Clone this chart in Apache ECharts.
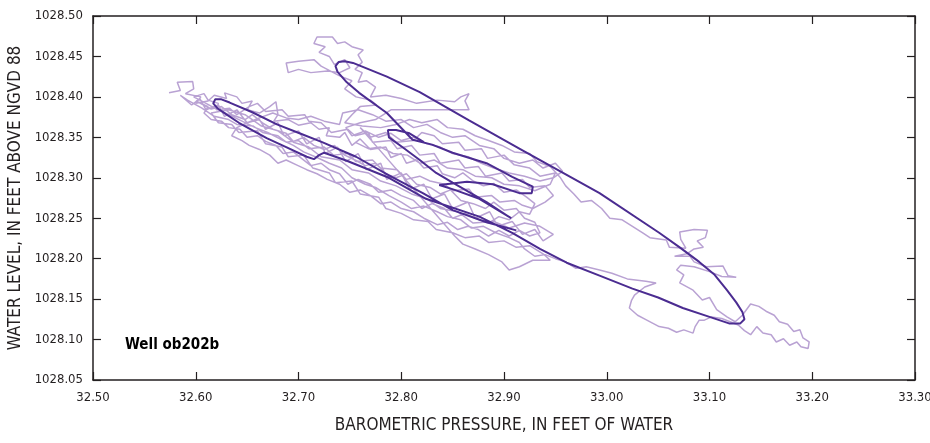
<!DOCTYPE html>
<html>
<head>
<meta charset="utf-8">
<script src="https://cdn.jsdelivr.net/npm/echarts@6/dist/echarts.min.js"></script>
<style>
html,body{margin:0;padding:0;background:#fff;}
#chart{width:930px;height:443px;}
</style>
</head>
<body>
<div id="chart"></div>
<script>
// Axis ticks
const xTicks = [32.50, 32.60, 32.70, 32.80, 32.90, 33.00, 33.10, 33.20, 33.30];
const yTicks = [1028.05, 1028.10, 1028.15, 1028.20, 1028.25, 1028.30, 1028.35, 1028.40, 1028.45, 1028.50];

// Light trace (raw record), pieces in recorded order: [barometric pressure, water level]
const lightBandUpper = [[32.574,1028.405],[32.585,1028.408],[32.582,1028.418],[32.597,1028.419],[32.598,1028.410],[32.590,1028.404],[32.605,1028.400],[32.600,1028.392],[32.612,1028.395],[32.618,1028.402],[32.630,1028.398],[32.628,1028.405],[32.640,1028.400],[32.645,1028.392],[32.655,1028.395],[32.650,1028.384],[32.662,1028.380],[32.672,1028.388],[32.678,1028.394],[32.680,1028.378],[32.676,1028.370],[32.690,1028.372],[32.700,1028.365],[32.712,1028.368],[32.720,1028.360],[32.730,1028.362],[32.727,1028.352],[32.740,1028.350],[32.745,1028.356],[32.752,1028.340],[32.760,1028.348],[32.770,1028.335],[32.785,1028.338],[32.790,1028.325],[32.800,1028.330],[32.805,1028.318],[32.815,1028.322],[32.822,1028.312],[32.835,1028.315],[32.840,1028.305],[32.852,1028.300],[32.860,1028.306],[32.870,1028.296],[32.880,1028.290],[32.890,1028.293],[32.900,1028.282],[32.912,1028.285],[32.922,1028.276],[32.930,1028.268]];
const lightBandLower = [[32.925,1028.255],[32.915,1028.258],[32.905,1028.248],[32.895,1028.252],[32.885,1028.244],[32.872,1028.250],[32.862,1028.256],[32.850,1028.250],[32.842,1028.262],[32.830,1028.268],[32.820,1028.262],[32.812,1028.272],[32.800,1028.278],[32.790,1028.285],[32.778,1028.282],[32.770,1028.292],[32.758,1028.298],[32.748,1028.292],[32.740,1028.305],[32.730,1028.310],[32.722,1028.318],[32.712,1028.315],[32.702,1028.325],[32.695,1028.332],[32.685,1028.330],[32.678,1028.340],[32.668,1028.345],[32.660,1028.352],[32.650,1028.350],[32.643,1028.360],[32.632,1028.362],[32.625,1028.370],[32.615,1028.372],[32.608,1028.380],[32.612,1028.388],[32.600,1028.395]];
const lightBandMiddle = [[32.615,1028.385],[32.625,1028.388],[32.635,1028.378],[32.648,1028.372],[32.655,1028.378],[32.665,1028.368],[32.675,1028.360],[32.688,1028.355],[32.695,1028.345],[32.705,1028.350],[32.715,1028.340],[32.725,1028.335],[32.735,1028.340],[32.745,1028.328],[32.755,1028.322],[32.765,1028.315],[32.775,1028.318],[32.785,1028.305],[32.795,1028.300],[32.805,1028.305],[32.815,1028.292],[32.828,1028.288],[32.838,1028.280],[32.848,1028.285],[32.858,1028.272],[32.870,1028.268],[32.882,1028.262],[32.890,1028.270],[32.900,1028.260],[32.912,1028.262],[32.920,1028.250],[32.930,1028.245],[32.935,1028.232],[32.925,1028.228],[32.915,1028.235]];
const lightBandBottom = [[32.905,1028.228],[32.895,1028.235],[32.885,1028.228],[32.875,1028.236],[32.865,1028.240],[32.855,1028.236],[32.845,1028.245],[32.835,1028.242],[32.822,1028.250],[32.812,1028.258],[32.800,1028.262],[32.790,1028.270],[32.780,1028.268],[32.770,1028.278],[32.760,1028.285],[32.750,1028.282],[32.740,1028.292],[32.728,1028.298],[32.718,1028.305],[32.708,1028.310],[32.698,1028.316],[32.688,1028.322],[32.680,1028.318],[32.672,1028.328],[32.662,1028.335],[32.652,1028.340],[32.645,1028.346],[32.635,1028.352],[32.640,1028.362]];
const lightMiddleUpper = [[32.650,1028.368],[32.662,1028.374],[32.675,1028.380],[32.688,1028.374],[32.700,1028.372],[32.712,1028.376],[32.725,1028.370],[32.740,1028.366],[32.743,1028.380],[32.758,1028.384],[32.772,1028.378],[32.785,1028.370],[32.800,1028.372],[32.812,1028.362],[32.825,1028.366],[32.838,1028.356],[32.850,1028.350],[32.862,1028.352],[32.876,1028.340],[32.890,1028.336],[32.900,1028.324],[32.915,1028.318],[32.928,1028.322],[32.938,1028.312],[32.950,1028.318],[32.957,1028.308],[32.948,1028.300],[32.935,1028.296],[32.920,1028.302],[32.905,1028.306],[32.890,1028.312],[32.878,1028.318],[32.865,1028.326],[32.850,1028.330],[32.838,1028.338],[32.825,1028.342],[32.812,1028.350],[32.800,1028.346],[32.790,1028.355],[32.778,1028.350],[32.765,1028.358],[32.752,1028.352],[32.746,1028.362],[32.760,1028.368],[32.775,1028.372],[32.790,1028.384],[32.810,1028.384],[32.830,1028.384],[32.850,1028.384],[32.866,1028.384],[32.862,1028.395],[32.866,1028.404],[32.858,1028.400],[32.852,1028.394],[32.835,1028.396],[32.815,1028.392],[32.800,1028.398],[32.785,1028.402],[32.770,1028.400],[32.775,1028.412],[32.766,1028.420],[32.758,1028.418],[32.762,1028.430],[32.755,1028.434],[32.762,1028.443],[32.758,1028.452],[32.763,1028.458],[32.752,1028.462],[32.745,1028.468],[32.738,1028.466],[32.733,1028.474],[32.718,1028.474],[32.715,1028.466],[32.726,1028.462],[32.720,1028.455],[32.730,1028.450],[32.735,1028.440],[32.745,1028.446],[32.750,1028.436],[32.740,1028.430],[32.728,1028.432],[32.712,1028.430],[32.700,1028.434],[32.690,1028.430],[32.688,1028.442],[32.700,1028.444],[32.715,1028.446],[32.722,1028.438],[32.740,1028.426],[32.752,1028.420],[32.745,1028.410],[32.756,1028.400],[32.770,1028.396],[32.776,1028.390],[32.760,1028.388],[32.752,1028.378],[32.745,1028.368],[32.762,1028.364],[32.780,1028.362],[32.795,1028.366],[32.808,1028.372],[32.820,1028.368],[32.835,1028.372],[32.845,1028.362],[32.860,1028.360],[32.872,1028.352],[32.885,1028.346],[32.898,1028.340],[32.910,1028.332],[32.925,1028.330],[32.932,1028.320],[32.945,1028.314],[32.955,1028.300]];
const lightTail = [[32.960,1028.290],[32.968,1028.280],[32.975,1028.270],[32.985,1028.272],[32.995,1028.262],[33.003,1028.250],[33.015,1028.248],[33.025,1028.240],[33.035,1028.232],[33.042,1028.226],[33.058,1028.223],[33.061,1028.214],[33.077,1028.213],[33.072,1028.224],[33.071,1028.233],[33.085,1028.236],[33.098,1028.235],[33.096,1028.226],[33.088,1028.222],[33.094,1028.214],[33.085,1028.212],[33.078,1028.206],[33.066,1028.203],[33.081,1028.203],[33.085,1028.196],[33.097,1028.190],[33.113,1028.191],[33.118,1028.179],[33.126,1028.177],[33.112,1028.178],[33.100,1028.184],[33.085,1028.190],[33.072,1028.192],[33.068,1028.186],[33.075,1028.180],[33.071,1028.170],[33.084,1028.161],[33.093,1028.149],[33.100,1028.152],[33.107,1028.137],[33.117,1028.128],[33.125,1028.122],[33.132,1028.130],[33.140,1028.144],[33.148,1028.141],[33.155,1028.135],[33.163,1028.130],[33.168,1028.122],[33.176,1028.119],[33.182,1028.110],[33.188,1028.112],[33.191,1028.102],[33.197,1028.097],[33.196,1028.089],[33.189,1028.091],[33.185,1028.097],[33.178,1028.093],[33.172,1028.101],[33.165,1028.097],[33.160,1028.106],[33.152,1028.108],[33.146,1028.116],[33.140,1028.106],[33.134,1028.111],[33.128,1028.118],[33.120,1028.122],[33.112,1028.126],[33.102,1028.128],[33.095,1028.124],[33.090,1028.124],[33.086,1028.116],[33.084,1028.108],[33.075,1028.112],[33.068,1028.109],[33.060,1028.114],[33.051,1028.116],[33.045,1028.120],[33.039,1028.124],[33.030,1028.130],[33.022,1028.139],[33.024,1028.148],[33.027,1028.155],[33.037,1028.165],[33.048,1028.170],[33.038,1028.172],[33.020,1028.175],[33.005,1028.182],[32.993,1028.186],[32.980,1028.190],[32.970,1028.188],[32.960,1028.196],[32.950,1028.200],[32.940,1028.205],[32.930,1028.203],[32.920,1028.212],[32.915,1028.220]];
const lightBandReturn = [[32.905,1028.226],[32.892,1028.232],[32.880,1028.240],[32.868,1028.238],[32.858,1028.248],[32.845,1028.252],[32.835,1028.258],[32.822,1028.265],[32.810,1028.262],[32.800,1028.270],[32.788,1028.278],[32.775,1028.288],[32.765,1028.292],[32.752,1028.300],[32.742,1028.312],[32.730,1028.318],[32.718,1028.325],[32.705,1028.332],[32.695,1028.340],[32.682,1028.348],[32.670,1028.356],[32.658,1028.362],[32.645,1028.370],[32.632,1028.378],[32.620,1028.385],[32.610,1028.392],[32.598,1028.400]];
const lightStepsUp = [[32.608,1028.404],[32.612,1028.396],[32.622,1028.392],[32.620,1028.384],[32.633,1028.386],[32.640,1028.378],[32.652,1028.388],[32.660,1028.392],[32.668,1028.382],[32.684,1028.384],[32.690,1028.376],[32.706,1028.378],[32.710,1028.370],[32.722,1028.368],[32.732,1028.356],[32.748,1028.360],[32.755,1028.352],[32.768,1028.356],[32.772,1028.344],[32.790,1028.346],[32.796,1028.336],[32.810,1028.340],[32.818,1028.328],[32.832,1028.330],[32.838,1028.318],[32.856,1028.322],[32.862,1028.312],[32.875,1028.314],[32.882,1028.302],[32.898,1028.306],[32.905,1028.296],[32.918,1028.298],[32.925,1028.288],[32.940,1028.290],[32.948,1028.278],[32.940,1028.270]];
const lightStepsDown = [[32.928,1028.262],[32.918,1028.266],[32.910,1028.272],[32.896,1028.270],[32.888,1028.278],[32.872,1028.276],[32.866,1028.286],[32.850,1028.284],[32.842,1028.292],[32.828,1028.296],[32.818,1028.302],[32.805,1028.298],[32.796,1028.310],[32.780,1028.312],[32.772,1028.322],[32.756,1028.320],[32.748,1028.330],[32.734,1028.328],[32.725,1028.338],[32.710,1028.336],[32.700,1028.346],[32.688,1028.344],[32.680,1028.352],[32.665,1028.356],[32.656,1028.364],[32.640,1028.366],[32.632,1028.372],[32.618,1028.376],[32.606,1028.386],[32.592,1028.396],[32.585,1028.402]];
const lightSpikes = [[32.596,1028.390],[32.604,1028.398],[32.610,1028.384],[32.622,1028.390],[32.628,1028.376],[32.640,1028.384],[32.650,1028.368],[32.662,1028.372],[32.668,1028.360],[32.680,1028.368],[32.686,1028.352],[32.700,1028.358],[32.708,1028.342],[32.720,1028.350],[32.726,1028.330],[32.738,1028.338],[32.746,1028.320],[32.758,1028.330],[32.766,1028.310],[32.780,1028.318],[32.786,1028.298],[32.800,1028.306],[32.808,1028.286],[32.822,1028.292],[32.830,1028.274],[32.842,1028.280],[32.850,1028.262],[32.865,1028.270],[32.872,1028.250],[32.886,1028.258],[32.894,1028.240],[32.908,1028.246],[32.918,1028.230],[32.930,1028.236],[32.938,1028.222],[32.948,1028.230]];
const lightStepsLow = [[32.935,1028.240],[32.920,1028.244],[32.905,1028.238],[32.890,1028.246],[32.870,1028.244],[32.855,1028.258],[32.838,1028.262],[32.825,1028.274],[32.810,1028.280],[32.795,1028.290],[32.780,1028.296],[32.768,1028.306],[32.752,1028.310],[32.740,1028.322],[32.722,1028.326],[32.710,1028.338],[32.695,1028.344],[32.680,1028.358],[32.664,1028.364],[32.648,1028.378],[32.632,1028.384],[32.615,1028.380],[32.622,1028.368],[32.635,1028.366],[32.642,1028.356],[32.660,1028.358],[32.668,1028.342],[32.684,1028.338],[32.690,1028.326],[32.705,1028.328],[32.714,1028.312],[32.730,1028.306],[32.736,1028.294],[32.752,1028.296],[32.760,1028.280],[32.778,1028.276],[32.785,1028.262],[32.800,1028.256],[32.812,1028.248],[32.826,1028.246],[32.834,1028.236],[32.850,1028.232],[32.862,1028.226],[32.876,1028.228],[32.885,1028.220],[32.900,1028.222],[32.912,1028.214],[32.925,1028.216],[32.938,1028.206],[32.945,1028.198],[32.928,1028.198],[32.915,1028.190],[32.905,1028.186],[32.898,1028.196],[32.885,1028.205],[32.872,1028.212],[32.860,1028.218],[32.852,1028.228]];
const lightStepsMiddle = [[32.760,1028.362],[32.770,1028.350],[32.785,1028.356],[32.795,1028.344],[32.812,1028.346],[32.820,1028.356],[32.832,1028.352],[32.840,1028.342],[32.856,1028.344],[32.862,1028.334],[32.878,1028.336],[32.884,1028.324],[32.900,1028.328],[32.910,1028.316],[32.925,1028.312],[32.935,1028.302],[32.950,1028.306],[32.945,1028.292],[32.930,1028.284],[32.915,1028.290],[32.900,1028.292],[32.888,1028.300],[32.872,1028.302],[32.860,1028.310],[32.845,1028.312],[32.832,1028.322],[32.818,1028.318],[32.806,1028.328],[32.792,1028.330],[32.780,1028.338],[32.768,1028.336],[32.755,1028.344]];

// Smoothed trace (dark line)
const smoothTrace = [[32.912,1028.235],[32.883,1028.245],[32.850,1028.260],[32.821,1028.281],[32.788,1028.303],[32.756,1028.326],[32.723,1028.344],[32.701,1028.355],[32.679,1028.366],[32.655,1028.381],[32.633,1028.393],[32.625,1028.397],[32.619,1028.397],[32.617,1028.392],[32.621,1028.386],[32.628,1028.380],[32.642,1028.368],[32.669,1028.349],[32.688,1028.338],[32.708,1028.326],[32.715,1028.323],[32.720,1028.328],[32.725,1028.331],[32.747,1028.321],[32.788,1028.300],[32.824,1028.274],[32.876,1028.252],[32.908,1028.232],[32.935,1028.212],[32.961,1028.195],[32.993,1028.179],[33.025,1028.163],[33.050,1028.152],[33.074,1028.139],[33.100,1028.128],[33.119,1028.120],[33.130,1028.120],[33.134,1028.125],[33.132,1028.134],[33.126,1028.146],[33.117,1028.161],[33.105,1028.180],[33.090,1028.196],[33.071,1028.214],[33.051,1028.232],[32.993,1028.281],[32.918,1028.334],[32.866,1028.371],[32.818,1028.406],[32.786,1028.425],[32.753,1028.442],[32.745,1028.444],[32.739,1028.443],[32.736,1028.438],[32.738,1028.431],[32.747,1028.418],[32.759,1028.405],[32.786,1028.380],[32.811,1028.347],[32.830,1028.341],[32.850,1028.331],[32.883,1028.318],[32.908,1028.301],[32.928,1028.289],[32.927,1028.281],[32.915,1028.281],[32.889,1028.292],[32.864,1028.295],[32.837,1028.291],[32.852,1028.285],[32.876,1028.274],[32.907,1028.250],[32.883,1028.270],[32.850,1028.294],[32.834,1028.306],[32.818,1028.322],[32.801,1028.338],[32.788,1028.350],[32.787,1028.359],[32.795,1028.359],[32.808,1028.355],[32.822,1028.344]];

const lightTrace = [].concat(lightBandUpper, lightBandLower, lightBandMiddle, lightBandBottom, lightMiddleUpper, lightTail, lightBandReturn, lightStepsUp, lightStepsDown, lightSpikes, lightStepsLow, lightStepsMiddle);

const FONT = "'DejaVu Sans Condensed', 'Liberation Sans Narrow', sans-serif";
const AX = '#231f20';

const chart = echarts.init(document.getElementById('chart'), null, {renderer: 'canvas'});
const baseX = {
  type: 'value', min: xTicks[0], max: xTicks[xTicks.length - 1], interval: 0.1,
  axisLine: {show: true, onZero: false, lineStyle: {color: AX, width: 1.5}},
  axisTick: {show: true, inside: true, length: 8, lineStyle: {color: AX, width: 1.2}},
  splitLine: {show: false}
};
const baseY = {
  type: 'value', min: yTicks[0], max: yTicks[yTicks.length - 1], interval: 0.05,
  axisLine: {show: true, onZero: false, lineStyle: {color: AX, width: 1.5}},
  axisTick: {show: true, inside: true, length: 8, lineStyle: {color: AX, width: 1.2}},
  splitLine: {show: false}
};
chart.setOption({
  animation: false,
  backgroundColor: '#fff',
  grid: {left: 93, right: 15, top: 16, bottom: 63, containLabel: false, outerBoundsMode: 'none'},
  xAxis: [
    Object.assign({}, baseX, {
      position: 'bottom',
      axisLabel: {formatter: v => v.toFixed(2), fontFamily: FONT, fontSize: 13, color: AX, margin: 11},
      name: 'BAROMETRIC PRESSURE, IN FEET OF WATER', nameLocation: 'middle', nameGap: 37,
      nameTextStyle: {fontFamily: FONT, fontSize: 17, color: AX}
    }),
    Object.assign({}, baseX, {position: 'top', axisLabel: {show: false}})
  ],
  yAxis: [
    Object.assign({}, baseY, {
      position: 'left',
      axisLabel: {formatter: v => v.toFixed(2), fontFamily: FONT, fontSize: 13, color: AX, margin: 10},
      name: 'WATER LEVEL, IN FEET ABOVE NGVD 88', nameLocation: 'middle', nameGap: 69, nameRotate: 90,
      nameTextStyle: {fontFamily: FONT, fontSize: 17, color: AX}
    }),
    Object.assign({}, baseY, {position: 'right', axisLabel: {show: false}})
  ],
  graphic: [{
    type: 'text', left: 125, top: 338,
    style: {text: 'Well ob202b', font: "bold 15px " + FONT, fill: '#000'}
  }],
  series: [
    {type: 'line', data: lightTrace, xAxisIndex: 0, yAxisIndex: 0, showSymbol: false, symbol: 'none',
     lineStyle: {color: '#b9a2d3', width: 1.5}, z: 2, silent: true},
    {type: 'line', data: smoothTrace, xAxisIndex: 0, yAxisIndex: 0, showSymbol: false, symbol: 'none',
     lineStyle: {color: '#4b2c91', width: 2}, z: 3, silent: true}
  ]
});
</script>
</body>
</html>
